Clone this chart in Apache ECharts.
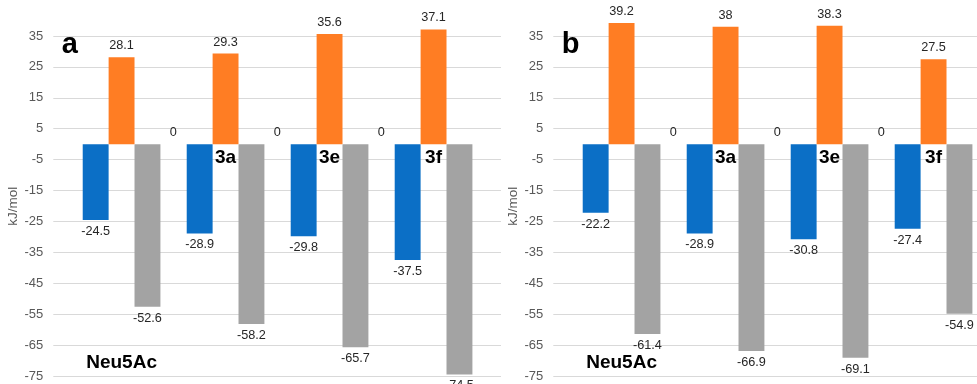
<!DOCTYPE html>
<html>
<head>
<meta charset="utf-8">
<script src="https://cdn.jsdelivr.net/npm/echarts@6/dist/echarts.min.js"></script>
<style>
  html, body { margin: 0; padding: 0; background: #ffffff; }
  #chart { width: 977px; height: 384px; }
</style>
</head>
<body>
<div id="chart"></div>
<script>
// Binding-energy components (kJ/mol) for Neu5Ac and the three derivatives
const categories = ['Neu5Ac', '3a', '3e', '3f'];
const yTicks = [-75, -65, -55, -45, -35, -25, -15, -5, 5, 15, 25, 35];
const Y_MIN = -75, Y_MAX = 40;

// Panel a
const aBlue   = [-24.5, -28.9, -29.8, -37.5];
const aOrange = [28.1, 29.3, 35.6, 37.1];
const aGray   = [-52.6, -58.2, -65.7, -74.5];
const aRef    = [0, 0, 0, null];

// Panel b
const bBlue   = [-22.2, -28.9, -30.8, -27.4];
const bOrange = [39.2, 38, 38.3, 27.5];
const bGray   = [-61.4, -66.9, -69.1, -54.9];
const bRef    = [0, 0, 0, null];

const panelLetters = ['a', 'b'];
const yAxisName = 'kJ/mol';

// ---- layout & style ----
const FONT = '"Liberation Sans", Arial, Helvetica, sans-serif';
const PANEL_LEFT = [53.3, 553.3];
const GRID_W = 447.7;
const GRID_TOP = 20.5;
const GRID_H = 355.5;
const X_MIN = -0.781, X_MAX = 3.524;
const BAR_W = 25.9;
const COLORS = { blue: '#0B6FC6', orange: '#FF7D23', gray: '#A3A3A3' };
// lift the label axis from the grid bottom up to the y = 0 line
const ZERO_OFFSET = -GRID_H * (0 - Y_MIN) / (Y_MAX - Y_MIN);

const panels = [
  { blue: aBlue, orange: aOrange, gray: aGray, ref: aRef },
  { blue: bBlue, orange: bOrange, gray: bGray, ref: bRef }
];

const toPairs = vals => vals.map((v, i) => (v == null ? null : [i, v])).filter(Boolean);
const catLabel = v => categories[v] != null ? '{c|' + categories[v] + '}' : '';
const catRich = { c: { fontFamily: FONT, fontSize: 19, fontWeight: 'bold', color: '#000', padding: [0, BAR_W, 0, 0] } };

const grid = [], xAxis = [], yAxis = [], series = [], title = [];

panels.forEach((p, k) => {
  grid.push({
    left: PANEL_LEFT[k], top: GRID_TOP, width: GRID_W, height: GRID_H,
    containLabel: false, outerBoundsMode: 'none'
  });

  // axis along zero: derivative names
  xAxis.push({
    type: 'value', gridIndex: k, min: X_MIN, max: X_MAX, position: 'bottom', offset: ZERO_OFFSET,
    axisLine: { show: false, onZero: false },
    axisTick: { show: false }, splitLine: { show: false },
    axisLabel: { customValues: [1, 2, 3], formatter: catLabel, rich: catRich, margin: 4 }
  });
  // bottom axis: parent compound name
  xAxis.push({
    type: 'value', gridIndex: k, min: X_MIN, max: X_MAX, position: 'bottom',
    axisLine: { show: false, onZero: false },
    axisTick: { show: false }, splitLine: { show: false },
    axisLabel: { customValues: [0], formatter: catLabel, rich: catRich, inside: true, margin: 4 }
  });

  yAxis.push({
    type: 'value', gridIndex: k, min: Y_MIN, max: Y_MAX, interval: 10,
    name: yAxisName, nameLocation: 'middle', nameGap: 21,
    nameTextStyle: { fontFamily: FONT, fontSize: 13.5, color: '#595959', padding: [0, 16, 0, 0] },
    axisLine: { show: false }, axisTick: { show: false, customValues: yTicks },
    axisLabel: { customValues: yTicks, fontFamily: FONT, fontSize: 13, color: '#595959', margin: 10 },
    splitLine: { show: true, lineStyle: { color: '#D9D9D9', width: 1 } }
  });

  const mk = (vals, color, pos) => ({
    type: 'bar', xAxisIndex: k * 2, yAxisIndex: k,
    data: toPairs(vals), barWidth: BAR_W, barGap: '0%',
    itemStyle: { color }, clip: false,
    label: { show: true, position: pos, distance: 5, fontFamily: FONT, fontSize: 12.7, color: '#262626' }
  });
  series.push(mk(p.blue, COLORS.blue, 'bottom'));
  series.push(mk(p.orange, COLORS.orange, 'top'));
  series.push(mk(p.gray, COLORS.gray, 'bottom'));
  series.push(mk(p.ref, 'rgba(0,0,0,0)', 'top'));

  title.push({
    text: panelLetters[k], left: PANEL_LEFT[k] + 8.5, top: 30, padding: 0,
    textStyle: { fontFamily: FONT, fontSize: 29, fontWeight: 'bold', color: '#000' }
  });
});

const chart = echarts.init(document.getElementById('chart'), null, { renderer: 'canvas' });
chart.setOption({
  animation: false,
  backgroundColor: '#ffffff',
  title, grid, xAxis, yAxis, series
});
</script>
</body>
</html>
